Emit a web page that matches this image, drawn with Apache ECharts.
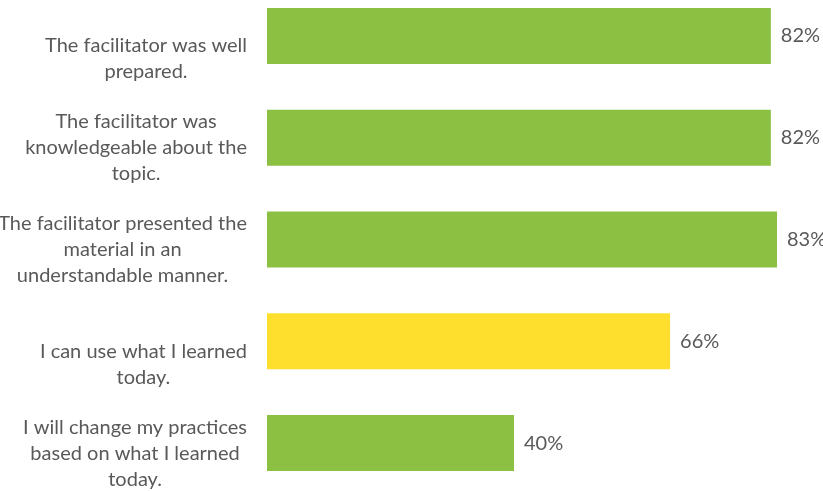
<!DOCTYPE html>
<html><head><meta charset="utf-8">
<script src="https://cdn.jsdelivr.net/npm/echarts@6/dist/echarts.min.js"></script>
<style>html,body{margin:0;padding:0;background:#fff}#c{width:823px;height:491px}</style>
</head><body><div id="c"></div>
<script>
const categories = [
  "The facilitator was well\nprepared.",
  "The facilitator was\nknowledgeable about the\ntopic.",
  "The facilitator presented the\nmaterial in an\nunderstandable manner.",
  "I can use what I learned\ntoday.",
  "I will change my practices\nbased on what I learned\ntoday."
];
const values = [82, 82, 83, 65.6, 40.2];
const barColors = ["#8BC043", "#8BC043", "#8BC043", "#FFDF2E", "#8BC043"];

const LH = 26;
// labels are bottom-aligned: last line sits just below the bar's bottom edge
const catData = categories.map(c => {
  const k = c.split('\n').length;
  const pad = Math.max(0, 2 * (36 - (k - 1) * LH / 2));
  return { value: c, textStyle: { padding: [pad, 0, 0, 0] } };
});

const chart = echarts.init(document.getElementById('c'));
chart.setOption({
  animation: false,
  grid: { left: 267, right: 3, top: -15, bottom: -3, containLabel: false, outerBoundsMode: 'none' },
  xAxis: { type: 'value', min: 0, max: 90, show: false },
  yAxis: {
    type: 'category', inverse: true, data: catData,
    axisLine: { show: false }, axisTick: { show: false },
    axisLabel: {
      margin: 20, color: '#595959', fontFamily: 'Lato', fontSize: 20, lineHeight: LH,
      formatter: v => v.split('\n').map(l => '{c|' + l + '}').join('\n'),
      rich: { c: { align: 'center', color: '#595959', fontFamily: 'Lato', fontSize: 20, lineHeight: LH } }
    }
  },
  series: [{
    type: 'bar', barWidth: 56,
    data: values.map((v, i) => ({ value: v, itemStyle: { color: barColors[i] } })),
    label: {
      show: true, position: 'right', distance: 10, color: '#595959',
      fontFamily: 'Lato', fontSize: 20,
      formatter: p => Math.round(p.value) + '%'
    }
  }]
});
</script></body></html>
